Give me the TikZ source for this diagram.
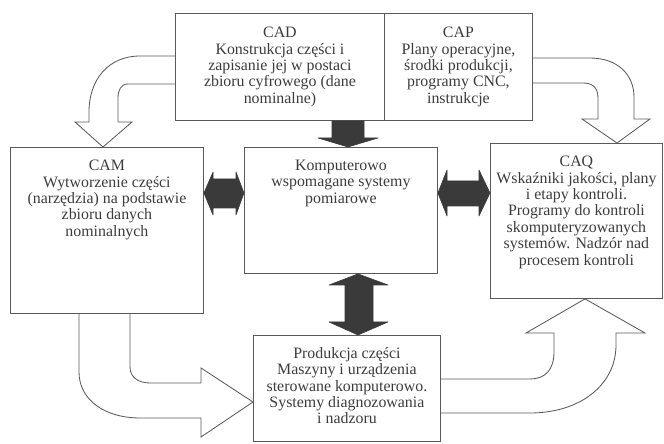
\documentclass[tikz,border=0pt]{standalone}
\usepackage{fontspec}
\setmainfont{Liberation Serif}
\usepackage{tikz}
\usepackage{xcolor}
\usetikzlibrary{positioning,calc}
\definecolor{lngray}{HTML}{5A5A5A}
\definecolor{txtgray}{HTML}{3C3C3C}
\definecolor{arrdark}{HTML}{3A3A3A}

\begin{document}
\begin{tikzpicture}[x=0.025cm,y=-0.025cm,
  box/.style={draw=lngray,line width=0.6pt,anchor=north west,inner sep=0pt},
  txt/.style={align=center,font=\fontsize{11.3}{11.7}\selectfont,text=txtgray,inner sep=2pt,anchor=north},
  dark/.style={fill=arrdark,draw=arrdark,line width=0.4pt,line join=round},
  hollow/.style={draw=lngray,line width=0.6pt,line join=miter}
]
\useasboundingbox (0,0) rectangle (664,444);

\node[box,minimum width=5.225cm,minimum height=2.675cm] (cad) at (175,13) {};
\node[box,minimum width=3.7cm,minimum height=2.675cm] (cap) at (384,13) {};
\node[box,minimum width=4.825cm,minimum height=4.15cm] (cam) at (10,147) {};
\node[box,minimum width=4.825cm,minimum height=3.15cm] (meas) at (244,147) {};
\node[box,minimum width=4.3cm,minimum height=3.875cm] (caq) at (490,143) {};
\node[box,minimum width=4.675cm,minimum height=2.65cm] (prod) at (253,335) {};

\node[txt] (cadtxt) at ($(cad.north)+(0,11)$) {CAD\\Konstrukcja części i\\zapisanie jej w postaci\\zbioru cyfrowego (dane\\nominalne)};
\node[txt] (captxt) at ($(cap.north)+(0,11)$) {CAP\\Plany operacyjne,\\środki produkcji,\\programy CNC,\\instrukcje};
\node[txt] (camtxt) at ($(cam.north)+(0,10)$) {CAM\\Wytworzenie części\\(narzędzia) na podstawie\\zbioru danych\\nominalnych};
\node[txt] (meastxt) at ($(meas.north)+(0,10)$) {Komputerowo\\wspomagane systemy\\pomiarowe};
\node[txt] (caqtxt) at ($(caq.north)+(0,10)$) {CAQ\\Wskaźniki jakości, plany\\i etapy kontroli.\\Programy do kontroli\\skomputeryzowanych\\systemów. Nadzór nad\\procesem kontroli};
\node[txt] (prodtxt) at ($(prod.north)+(0,9)$) {Produkcja części\\Maszyny i urządzenia\\sterowane komputerowo.\\Systemy diagnozowania\\i nadzoru};

% dark block arrows
\draw[dark] (cad.south -| 332,0) -- (332,138) -- (318,138) -- (meas.north -| 348,0) -- (378,138) -- (364,138) -- (cad.south -| 364,0) -- cycle;
\draw[dark] (cam.east |- 0,193) -- (213,172) -- (213,179) -- (236,179) -- (236,172) -- (meas.west |- 0,193) -- (236,215) -- (236,208) -- (213,208) -- (213,215) -- cycle;
\draw[dark] (meas.east |- 0,193) -- (447,170) -- (447,181) -- (479,181) -- (479,170) -- (caq.west |- 0,193) -- (479,216) -- (479,206) -- (447,206) -- (447,216) -- cycle;
\draw[dark] (meas.south -| 358,0) -- (388,285) -- (373,285) -- (373,322) -- (388,322) -- (prod.north -| 358,0) -- (329,322) -- (345,322) -- (345,285) -- (329,285) -- cycle;

% hollow curved arrows
\draw[hollow] (cad.west |- 0,56) -- (140,56) .. controls (108,56) and (89,80) .. (89,112) -- (89,122) -- (75,122) -- (cam.north -| 103,0) -- (132,122) -- (118,122) -- (118,98) .. controls (118,90) and (121,84) .. (128,84) -- (cad.west |- 0,84);
\draw[hollow] (cap.east |- 0,58) -- (590,58) .. controls (618,58) and (634,75) .. (634,97) -- (634,119) -- (650,119) -- (caq.north -| 617,0) -- (582,119) -- (598,119) -- (598,98) .. controls (598,88) and (593,83) .. (583,83) -- (cap.east |- 0,83);
\draw[hollow] (cam.south -| 79,0) -- (79,372) .. controls (79,400) and (105,418) .. (140,418) -- (201,418) -- (201,437) -- (prod.west |- 0,402) -- (201,368) -- (201,383) -- (150,383) .. controls (138,383) and (130,377) .. (130,367) -- (cam.south -| 130,0);
\draw[hollow] (prod.east |- 0,413) -- (530,413) .. controls (580,413) and (616,385) .. (616,345) -- (616,333) -- (645,333) -- (caq.south -| 585,0) -- (526,333) -- (554,333) -- (554,352) .. controls (554,370) and (545,379) .. (530,379) -- (prod.east |- 0,379);
\end{tikzpicture}
\end{document}
